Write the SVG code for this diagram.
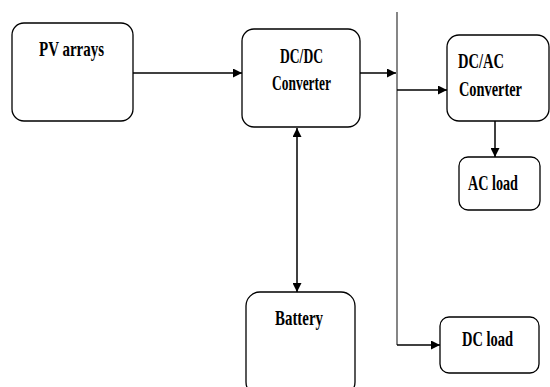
<svg xmlns="http://www.w3.org/2000/svg" width="550" height="387" viewBox="0 0 550 387">
<style>
.box{fill:#fff;stroke:#000;stroke-width:1.3}
.t{font-family:"Liberation Serif","Times New Roman",serif;font-weight:bold;font-size:21px;fill:#000}
.ln{stroke:#000;stroke-width:1.5;fill:none}
.bus{stroke:#444;stroke-width:1.3;fill:none}
</style>
<defs>
<marker id="ah" viewBox="0 0 10 10" refX="10" refY="5" markerWidth="9" markerHeight="9" markerUnits="userSpaceOnUse" orient="auto-start-reverse">
<path d="M0,0 L10,5 L0,10 z" fill="#000"/>
</marker>
</defs>
<rect width="550" height="387" fill="#fff"/>
<g id="connectors">
<line class="ln" x1="133" y1="73" x2="242" y2="73" marker-end="url(#ah)"/>
<line class="ln" x1="360" y1="73" x2="396" y2="73" marker-end="url(#ah)"/>
<line class="bus" x1="397" y1="12" x2="397" y2="345"/>
<line class="ln" x1="397" y1="90" x2="447" y2="90" marker-end="url(#ah)"/>
<line class="ln" x1="397" y1="345" x2="440" y2="345" marker-end="url(#ah)"/>
<line class="ln" x1="495" y1="121" x2="495" y2="157" marker-end="url(#ah)"/>
<line class="ln" x1="297" y1="128" x2="297" y2="292" marker-start="url(#ah)" marker-end="url(#ah)"/>
</g>
<g id="pv">
<rect class="box" x="12" y="23" width="121" height="98" rx="12"/>
<text class="t" x="39" y="56" textLength="65" lengthAdjust="spacingAndGlyphs">PV arrays</text>
</g>
<g id="dcdc">
<rect class="box" x="242" y="29" width="118" height="98" rx="12"/>
<text class="t" x="280" y="63" textLength="43" lengthAdjust="spacingAndGlyphs">DC/DC</text>
<text class="t" x="272" y="90" textLength="59" lengthAdjust="spacingAndGlyphs">Converter</text>
</g>
<g id="dcac">
<rect class="box" x="447" y="35" width="102" height="86" rx="12"/>
<text class="t" x="458" y="68" textLength="46" lengthAdjust="spacingAndGlyphs">DC/AC</text>
<text class="t" x="459" y="96" textLength="63" lengthAdjust="spacingAndGlyphs">Converter</text>
</g>
<g id="acload">
<rect class="box" x="459" y="157" width="81" height="53" rx="9"/>
<text class="t" x="468" y="190" textLength="50" lengthAdjust="spacingAndGlyphs">AC load</text>
</g>
<g id="battery">
<rect class="box" x="246" y="292" width="109" height="104" rx="14"/>
<text class="t" x="275" y="325" textLength="48" lengthAdjust="spacingAndGlyphs">Battery</text>
</g>
<g id="dcload">
<rect class="box" x="440" y="317" width="99" height="56" rx="9"/>
<text class="t" x="462" y="346" textLength="51" lengthAdjust="spacingAndGlyphs">DC load</text>
</g>
</svg>
